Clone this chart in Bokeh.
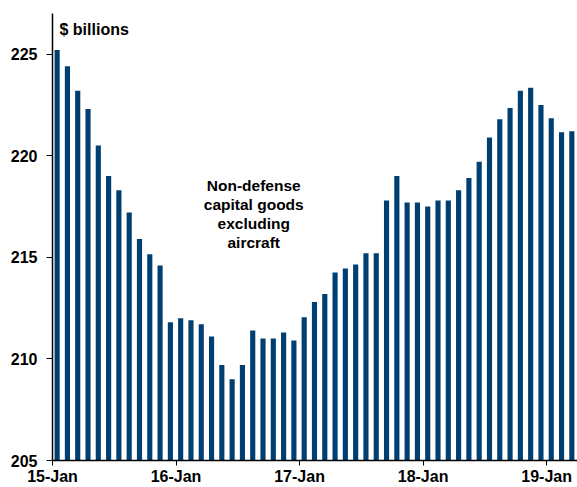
from bokeh.plotting import figure
from bokeh.models import Range1d, FixedTicker, Label, ColumnDataSource
from bokeh.embed import file_html
from bokeh.resources import INLINE

# Monthly values, Jan 2015 .. Mar 2019 ($ billions)
values = [225.2, 224.4, 223.2, 222.3, 220.5, 219.0, 218.3, 217.2, 215.9, 215.15,
          214.6, 211.8, 212.0, 211.9, 211.7, 211.1, 209.7, 209.0, 209.7, 211.4,
          211.0, 211.0, 211.3, 210.9, 212.05, 212.8, 213.2, 214.25, 214.45, 214.65,
          215.2, 215.2, 217.8, 219.0, 217.7, 217.7, 217.5, 217.8, 217.8, 218.3,
          218.9, 219.7, 220.9, 221.8, 222.35, 223.2, 223.35, 222.5, 221.85, 221.15,
          221.2]
month_index = list(range(len(values)))
tick_positions = [0, 12, 24, 36, 48]
tick_labels = ["15-Jan", "16-Jan", "17-Jan", "18-Jan", "19-Jan"]
y_ticks = [205, 210, 215, 220, 225]

FONT = "Liberation Sans"
BAR = "#003f72"

src = ColumnDataSource(dict(x=[i + 0.45 for i in month_index], top=values))

p = figure(width=577, height=487, output_backend="svg", toolbar_location=None,
           x_range=Range1d(0, len(values)), y_range=Range1d(205, 227),
           min_border_left=52, min_border_right=0, min_border_top=13,
           min_border_bottom=27)
p.outline_line_color = None
p.grid.grid_line_color = None
p.background_fill_color = "white"
p.border_fill_color = "white"

p.vbar(x="x", top="top", bottom=205, width=0.5, source=src,
       fill_color=BAR, line_color=None)

xa = p.xaxis[0]
xa.ticker = FixedTicker(ticks=tick_positions)
xa.major_label_overrides = {t: l for t, l in zip(tick_positions, tick_labels)}
xa.major_tick_out = 5
xa.major_tick_in = 0
xa.minor_tick_line_color = None
xa.major_label_standoff = 2
xa.major_label_text_font = FONT
xa.major_label_text_font_style = "bold"
xa.major_label_text_font_size = "16px"
xa.major_label_text_color = "black"
xa.axis_line_color = "black"
xa.axis_line_width = 1.5

ya = p.yaxis[0]
ya.ticker = FixedTicker(ticks=y_ticks)
ya.major_tick_out = 6
ya.major_tick_in = 0
ya.minor_tick_line_color = None
ya.major_label_standoff = 9
ya.major_label_text_font = FONT
ya.major_label_text_font_style = "bold"
ya.major_label_text_font_size = "16px"
ya.major_label_text_color = "black"
ya.axis_line_color = "black"
ya.axis_line_width = 1.5

p.add_layout(Label(x=0.68, y=226.22, text="$ billions", text_font=FONT,
                   text_font_style="bold", text_font_size="16px",
                   text_baseline="alphabetic", text_align="left", text_color="black"))
p.add_layout(Label(x=19.55, y=218.94, text="Non-defense\ncapital goods\nexcluding\naircraft",
                   text_font=FONT, text_font_style="bold", text_font_size="15.5px",
                   text_baseline="top", text_align="center", text_color="black",
                   text_line_height=1.12))

open("out.html", "w").write(file_html(p, INLINE))
